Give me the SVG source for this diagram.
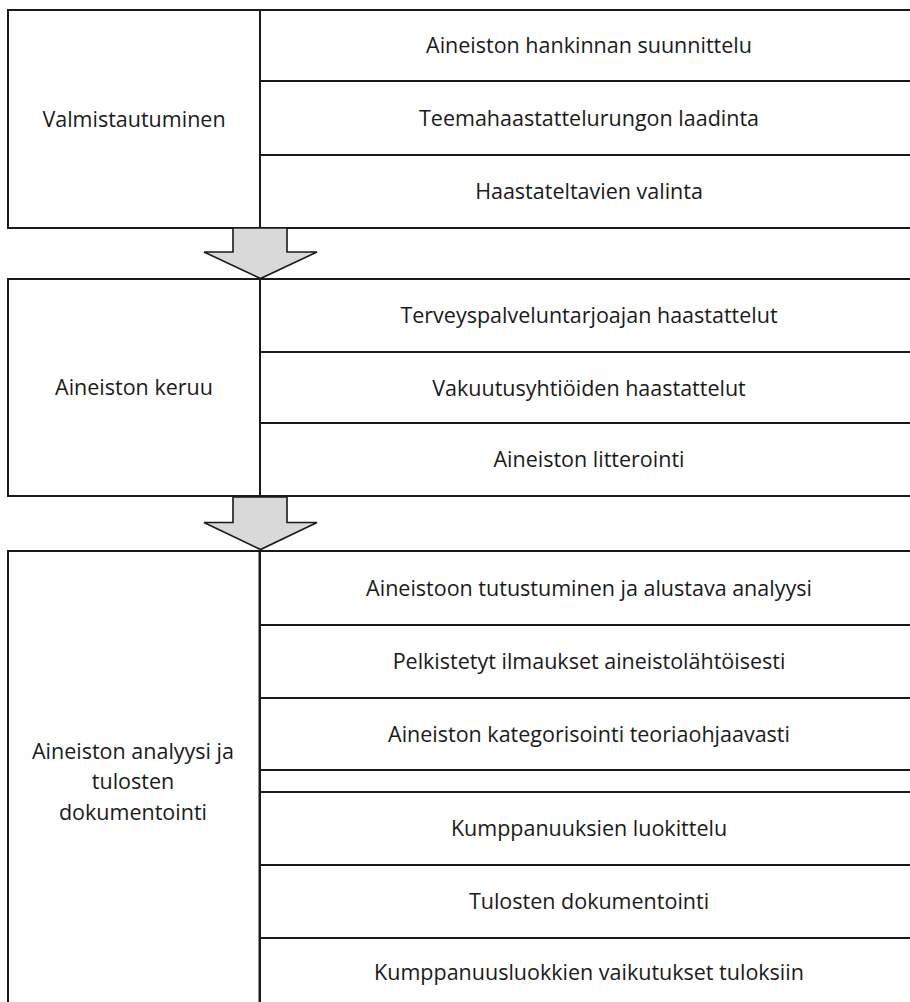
<svg xmlns="http://www.w3.org/2000/svg" width="910" height="1002" viewBox="0 0 910 1002">
<style>
  .box { fill: #ffffff; stroke: #1a1a1a; stroke-width: 2; }
  .t { font-family: "Open Sans", "Liberation Sans", sans-serif; font-size: 21.5px; fill: #1a1a1a; text-anchor: middle; }
  .arrow { fill: #d9d9d9; stroke: #1a1a1a; stroke-width: 1.6; stroke-linejoin: miter; }
</style>
<rect x="0" y="0" width="910" height="1002" fill="#ffffff"/>

<!-- Section 1 -->
<g id="valmistautuminen">
  <rect class="box" x="8" y="10" width="252" height="218"/>
  <text class="t" x="134" y="127">Valmistautuminen</text>
</g>
<g id="s1-r1"><rect class="box" x="260" y="10" width="680" height="71"/><text class="t" x="589" y="53">Aineiston hankinnan suunnittelu</text></g>
<g id="s1-r2"><rect class="box" x="260" y="81" width="680" height="74"/><text class="t" x="589" y="126">Teemahaastattelurungon laadinta</text></g>
<g id="s1-r3"><rect class="box" x="260" y="155" width="680" height="73"/><text class="t" x="589" y="199">Haastateltavien valinta</text></g>

<!-- Section 2 -->
<g id="aineiston-keruu">
  <rect class="box" x="8" y="279" width="252" height="217"/>
  <text class="t" x="134" y="395">Aineiston keruu</text>
</g>
<g id="s2-r1"><rect class="box" x="260" y="279" width="680" height="73"/><text class="t" x="589" y="323">Terveyspalveluntarjoajan  haastattelut</text></g>
<g id="s2-r2"><rect class="box" x="260" y="352" width="680" height="71"/><text class="t" x="589" y="396">Vakuutusyhtiöiden  haastattelut</text></g>
<g id="s2-r3"><rect class="box" x="260" y="423" width="680" height="73"/><text class="t" x="589" y="467">Aineiston litterointi</text></g>

<!-- Section 3 -->
<g id="analyysi">
  <rect class="box" x="8" y="551" width="252" height="480"/>
  <line x1="260" y1="551" x2="260" y2="1002" stroke="#1a1a1a" stroke-width="3"/>
  <text class="t" x="133" y="759">Aineiston analyysi ja</text>
  <text class="t" x="133" y="789">tulosten</text>
  <text class="t" x="133" y="820">dokumentointi</text>
</g>
<g id="s3-r1"><rect class="box" x="260" y="551" width="680" height="74"/><text class="t" x="589" y="596">Aineistoon tutustuminen ja alustava analyysi</text></g>
<g id="s3-r2"><rect class="box" x="260" y="625" width="680" height="73"/><text class="t" x="589" y="669">Pelkistetyt ilmaukset aineistolähtöisesti</text></g>
<g id="s3-r3"><rect class="box" x="260" y="698" width="680" height="72"/><text class="t" x="589" y="742">Aineiston kategorisointi teoriaohjaavasti</text></g>
<g id="s3-r4"><rect class="box" x="260" y="770" width="680" height="22"/></g>
<g id="s3-r5"><rect class="box" x="260" y="792" width="680" height="73"/><text class="t" x="589" y="836">Kumppanuuksien luokittelu</text></g>
<g id="s3-r6"><rect class="box" x="260" y="865" width="680" height="73"/><text class="t" x="589" y="909">Tulosten dokumentointi</text></g>
<g id="s3-r7"><rect class="box" x="260" y="938" width="680" height="100"/><text class="t" x="589" y="980">Kumppanuusluokkien  vaikutukset tuloksiin</text></g>

<!-- Connectors -->
<g id="connectors">
  <polygon class="arrow" points="233,228 287,228 287,252 317,252 260.5,278.5 204,252 233,252"/>
  <polygon class="arrow" points="233,497 287,497 287,522.5 317,522.5 260.5,549.5 204,522.5 233,522.5"/>
</g>
</svg>
